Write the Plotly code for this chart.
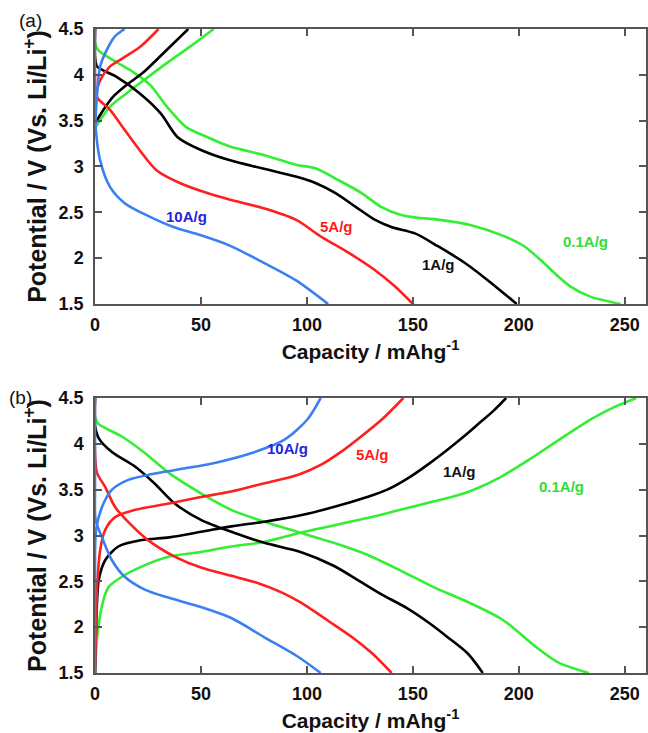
import plotly.graph_objects as go

# ---- Panel (a): discharge / charge curves at each current density ----
a_10_dis_cap = [0, 0, 0.5, 2.4, 7, 14, 26, 37, 50, 63.3, 78.8, 94.7, 110]
a_10_dis_v = [4.5, 3.6, 3.37, 3.07, 2.78, 2.60, 2.45, 2.34, 2.25, 2.14, 1.96, 1.76, 1.5]
a_10_chg_cap = [0, 0.5, 2.4, 5.5, 9.4, 14]
a_10_chg_v = [3.4, 3.62, 4.09, 4.27, 4.42, 4.5]

a_5_dis_cap = [0, 0, 0.8, 7, 13, 21, 29, 40, 53, 63.3, 78.8, 94.7, 107, 119.6, 132, 141.6, 150]
a_5_dis_v = [4.5, 4.0, 3.76, 3.62, 3.43, 3.18, 2.96, 2.82, 2.71, 2.64, 2.55, 2.42, 2.23, 2.06, 1.87, 1.69, 1.5]
a_5_chg_cap = [0, 2.4, 7, 13, 21, 30]
a_5_chg_v = [3.75, 3.94, 4.09, 4.18, 4.3, 4.5]

a_1_dis_cap = [0, 0, 1, 10, 21, 31, 39, 50, 63.3, 78.8, 94.7, 104, 113.5, 123, 132, 139.8, 151, 161.8, 174.4, 185.3, 199]
a_1_dis_v = [4.5, 4.2, 4.09, 3.98, 3.80, 3.58, 3.32, 3.18, 3.07, 2.98, 2.89, 2.82, 2.71, 2.56, 2.42, 2.34, 2.27, 2.13, 1.95, 1.76, 1.5]
a_1_chg_cap = [0, 4, 8.5, 15, 23, 32, 44]
a_1_chg_v = [3.47, 3.62, 3.76, 3.89, 4.03, 4.23, 4.5]

a_01_dis_cap = [0, 0, 1.5, 10, 18, 26, 34, 43, 53, 63.3, 78.8, 94.7, 104, 115, 125.8, 135, 144.5, 152.4, 161.8,
                177.5, 193, 202.5, 210.3, 216.7, 224.4, 233.7, 248]
a_01_dis_v = [4.5, 4.35, 4.27, 4.14, 4.03, 3.89, 3.65, 3.43, 3.32, 3.22, 3.13, 3.02, 2.98, 2.85, 2.71, 2.56, 2.47, 2.44, 2.42,
              2.36, 2.24, 2.13, 1.98, 1.84, 1.69, 1.58, 1.5]
a_01_chg_cap = [0, 7, 15, 23, 34, 45, 56]
a_01_chg_v = [3.42, 3.65, 3.80, 3.94, 4.13, 4.31, 4.5]

# ---- Panel (b) ----
b_10_dis_cap = [0, 0, 0.3, 3.3, 8, 14, 23.5, 35, 50, 64.3, 79.9, 95.6, 106.5]
b_10_dis_v = [4.5, 3.5, 3.17, 2.98, 2.73, 2.55, 2.41, 2.32, 2.22, 2.10, 1.89, 1.68, 1.5]
b_10_chg_cap = [0, 0, 0.5, 3.3, 8, 16, 27, 42, 58, 74, 89, 100, 106.5]
b_10_chg_v = [1.5, 2.5, 3.06, 3.31, 3.50, 3.61, 3.67, 3.73, 3.80, 3.90, 4.04, 4.26, 4.5]

b_5_dis_cap = [0, 0, 1, 4.8, 9.5, 16, 25, 37.6, 50, 64.3, 77, 88, 97, 110, 122, 131, 140]
b_5_dis_v = [4.5, 3.9, 3.68, 3.53, 3.31, 3.14, 2.95, 2.77, 2.65, 2.56, 2.48, 2.38, 2.27, 2.07, 1.88, 1.71, 1.5]
b_5_chg_cap = [0, 0.5, 1, 2.5, 4.8, 9.5, 19, 35, 50, 64.3, 79.9, 95.6, 106.5, 115.9, 125, 136, 145.5]
b_5_chg_v = [1.5, 2.0, 2.44, 2.85, 3.06, 3.2, 3.28, 3.35, 3.42, 3.48, 3.57, 3.66, 3.77, 3.91, 4.07, 4.28, 4.5]

b_1_dis_cap = [0, 0, 1.8, 8, 19, 28, 37.6, 50, 64.3, 79.9, 97, 112.6, 125, 135, 147, 158, 167, 176, 183]
b_1_dis_v = [4.5, 4.2, 4.06, 3.91, 3.75, 3.57, 3.35, 3.17, 3.04, 2.92, 2.82, 2.67, 2.50, 2.36, 2.21, 2.04, 1.88, 1.71, 1.5]
b_1_chg_cap = [0, 0.8, 1.8, 4.8, 11, 22, 35, 50, 64.3, 79.9, 97, 112.6, 128.4, 137.9, 148.7, 158, 166, 174, 182, 188, 194]
b_1_chg_v = [1.5, 2.2, 2.52, 2.73, 2.88, 2.95, 2.98, 3.04, 3.10, 3.15, 3.22, 3.31, 3.42, 3.50, 3.64, 3.79, 3.93, 4.08, 4.24, 4.36, 4.5]

b_01_dis_cap = [0, 0, 1.5, 12.7, 23.5, 35, 50, 64.3, 79.9, 97, 112.6, 128.4, 144, 159.5, 175.4, 191, 197, 208.3, 219, 233]
b_01_dis_v = [4.5, 4.3, 4.22, 4.08, 3.90, 3.68, 3.46, 3.28, 3.15, 3.03, 2.92, 2.79, 2.62, 2.44, 2.28, 2.10, 2.0, 1.78, 1.61, 1.5]
b_01_chg_cap = [0, 1, 4, 6.5, 12.7, 22, 35, 50, 64.3, 79.9, 97, 112.6, 128.4, 144, 159.5, 175.4, 190, 205, 220,
                235, 245, 255.4]
b_01_chg_v = [1.5, 1.89, 2.3, 2.44, 2.55, 2.66, 2.77, 2.82, 2.88, 2.93, 3.03, 3.11, 3.19, 3.28, 3.37, 3.47, 3.62, 3.83, 4.06,
              4.28, 4.40, 4.5]

# current-density labels: text, capacity, potential
rate_names = ["10A/g", "5A/g", "1A/g", "0.1A/g"]
a_label_cap = [43, 114, 162, 231.6]
a_label_v = [2.45, 2.34, 1.93, 2.18]
b_label_cap = [91, 131, 172, 220]
b_label_v = [3.95, 3.88, 3.70, 3.53]

line_colors = ["#3a80f0", "#ff1f1f", "#000000", "#33ee33"]
text_colors = ["#2424dd", "#ff1a1a", "#111111", "#33dd33"]

x_ticks = [0, 50, 100, 150, 200, 250]
y_ticks = [1.5, 2, 2.5, 3, 3.5, 4, 4.5]

FONT = "Liberation Sans, Arial, sans-serif"

fig = go.Figure()

panel_a = [
    (a_10_dis_cap, a_10_dis_v, a_10_chg_cap, a_10_chg_v),
    (a_5_dis_cap, a_5_dis_v, a_5_chg_cap, a_5_chg_v),
    (a_1_dis_cap, a_1_dis_v, a_1_chg_cap, a_1_chg_v),
    (a_01_dis_cap, a_01_dis_v, a_01_chg_cap, a_01_chg_v),
]
panel_b = [
    (b_10_dis_cap, b_10_dis_v, b_10_chg_cap, b_10_chg_v),
    (b_5_dis_cap, b_5_dis_v, b_5_chg_cap, b_5_chg_v),
    (b_1_dis_cap, b_1_dis_v, b_1_chg_cap, b_1_chg_v),
    (b_01_dis_cap, b_01_dis_v, b_01_chg_cap, b_01_chg_v),
]

# draw slowest rate first so the faster curves sit on top
for panel, xa, ya in [(panel_a, "x", "y"), (panel_b, "x2", "y2")]:
    for i in reversed(range(4)):
        dc, dv, cc, cv = panel[i]
        for xs, ys in [(dc, dv), (cc, cv)]:
            fig.add_trace(go.Scatter(
                x=xs, y=ys, mode="lines", xaxis=xa, yaxis=ya,
                line=dict(color=line_colors[i], width=2.6, shape="spline", smoothing=0.8),
                showlegend=False, hoverinfo="skip"))

annotations = []
for i in range(4):
    annotations.append(dict(x=a_label_cap[i], y=a_label_v[i], xref="x", yref="y",
                            text="<b>%s</b>" % rate_names[i], showarrow=False,
                            font=dict(family=FONT, size=15, color=text_colors[i])))
    annotations.append(dict(x=b_label_cap[i], y=b_label_v[i], xref="x2", yref="y2",
                            text="<b>%s</b>" % rate_names[i], showarrow=False,
                            font=dict(family=FONT, size=15, color=text_colors[i])))

annotations.append(dict(x=-0.141, y=1.013, xref="paper", yref="paper", text="(a)",
                        showarrow=False, xanchor="left", yanchor="middle",
                        font=dict(family=FONT, size=19, color="#111")))
annotations.append(dict(x=-0.159, y=0.428, xref="paper", yref="paper", text="(b)",
                        showarrow=False, xanchor="left", yanchor="middle",
                        font=dict(family=FONT, size=19, color="#111")))

axis_common = dict(
    showline=True, linecolor="#555", linewidth=1.5, mirror="ticks",
    ticks="inside", ticklen=7, tickwidth=1.5, tickcolor="#555",
    showgrid=False, zeroline=False,
    tickfont=dict(family=FONT, size=18, color="#111"),
)

xtitle = dict(text="<b>Capacity / mAhg<sup>-1</sup></b>",
              font=dict(family=FONT, size=21, color="#111"), standoff=10)
ytitle = dict(text="<b>Potential / V (Vs. Li/Li<sup>+</sup>)</b>",
              font=dict(family=FONT, size=25, color="#111"), standoff=5)

xtext = ["<b>%d</b>" % v for v in x_ticks]
ytext = ["<b>%g</b>" % v for v in y_ticks]

fig.update_layout(
    width=648, height=733,
    margin=dict(l=95, r=0, t=29, b=60),
    paper_bgcolor="white", plot_bgcolor="white",
    xaxis=dict(axis_common, range=[0, 260], tickvals=x_ticks, ticktext=xtext,
               anchor="y", domain=[0, 1], title=xtitle, ticklabelstandoff=4),
    yaxis=dict(axis_common, range=[1.5, 4.5], tickvals=y_ticks, ticktext=ytext,
               anchor="x", domain=[0.573, 1], title=ytitle, ticklabelstandoff=6),
    xaxis2=dict(axis_common, range=[0, 260], tickvals=x_ticks, ticktext=xtext,
                anchor="y2", domain=[0, 1], title=xtitle, ticklabelstandoff=4),
    yaxis2=dict(axis_common, range=[1.5, 4.5], tickvals=y_ticks, ticktext=ytext,
                anchor="x2", domain=[0, 0.427], title=ytitle, ticklabelstandoff=6),
    annotations=annotations,
)

fig.write_html("out.html")
